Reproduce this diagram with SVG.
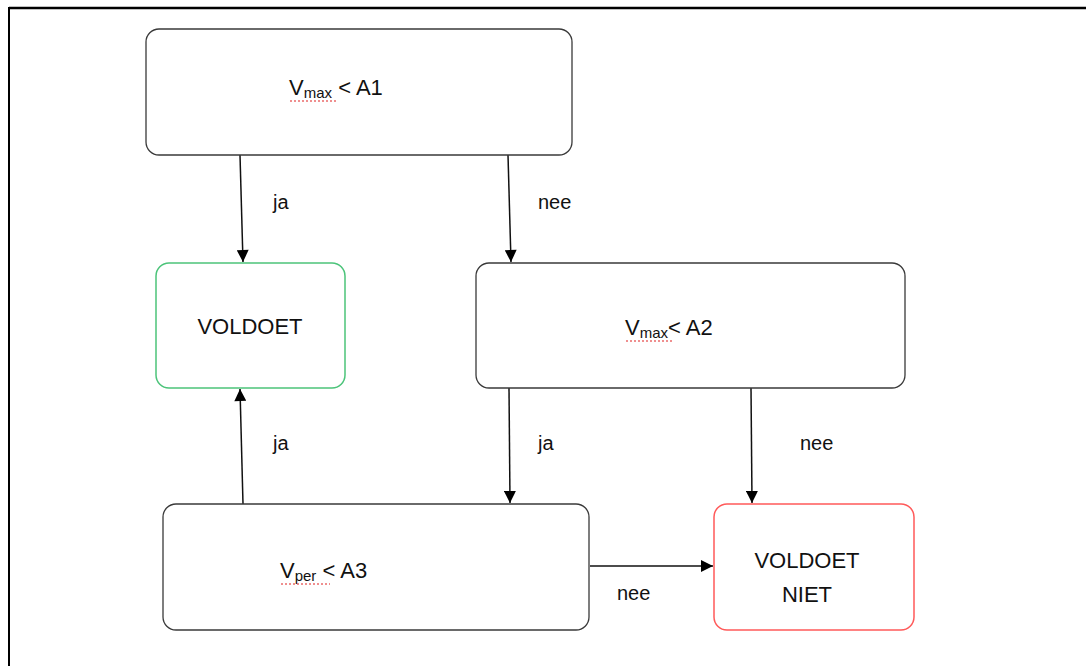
<svg xmlns="http://www.w3.org/2000/svg" width="1086" height="666" viewBox="0 0 1086 666">
<style>
.box{fill:#fff;stroke:#3a3a3a;stroke-width:1.3}
.ok{fill:#fff;stroke:#4cc47a;stroke-width:1.5}
.nok{fill:#fff;stroke:#ff5a5a;stroke-width:1.5}
text{font-family:"Liberation Sans",Arial,sans-serif;font-size:22px;fill:#111}
.sub{font-size:15px}
.lbl{font-size:20px}
.cn{stroke:#111;stroke-width:1.5;fill:none;marker-end:url(#ah)}
.sq{stroke:#e02020;stroke-width:1.2;stroke-dasharray:2 2;fill:none}
</style>
<defs>
<marker id="ah" viewBox="0 0 10 10" refX="10" refY="5" markerWidth="13" markerHeight="12" markerUnits="userSpaceOnUse" orient="auto">
<path d="M0,0 L10,5 L0,10 z" fill="#000"/>
</marker>
</defs>
<rect width="1086" height="666" fill="#fff"/>
<line x1="9" y1="8" x2="1086" y2="8" stroke="#000" stroke-width="2.5"/>
<line x1="9" y1="7" x2="9" y2="666" stroke="#000" stroke-width="2"/>
<g id="connectors">
<path class="cn" d="M240,155 L243,262"/>
<path class="cn" d="M508,155 L511,262"/>
<path class="cn" d="M243,504 L240,389"/>
<path class="cn" d="M509,388 L510,503"/>
<path class="cn" d="M751,388 L752,503"/>
<path class="cn" d="M590,566 L713,566"/>
<text class="lbl" x="273" y="209">ja</text>
<text class="lbl" x="538" y="209">nee</text>
<text class="lbl" x="273" y="450">ja</text>
<text class="lbl" x="538" y="450">ja</text>
<text class="lbl" x="800" y="450">nee</text>
<text class="lbl" x="617" y="600">nee</text>
</g>
<g id="n1">
<rect class="box" x="146" y="29" width="426" height="126" rx="13"/>
<text x="289" y="95">V<tspan class="sub" dy="3">max</tspan><tspan dy="-3"> &lt; A1</tspan></text>
<path class="sq" d="M290,101 H337"/>
</g>
<g id="voldoet">
<rect class="ok" x="156" y="263" width="189" height="125" rx="13"/>
<text x="250" y="334" text-anchor="middle">VOLDOET</text>
</g>
<g id="n2">
<rect class="box" x="476" y="263" width="429" height="125" rx="13"/>
<text x="625" y="335">V<tspan class="sub" dy="3">max</tspan><tspan dy="-3">&lt; A2</tspan></text>
<path class="sq" d="M626,341 H672"/>
</g>
<g id="n3">
<rect class="box" x="163" y="504" width="426" height="126" rx="13"/>
<text x="280" y="578">V<tspan class="sub" dy="3">per</tspan><tspan dy="-3"> &lt; A3</tspan></text>
<path class="sq" d="M281,584 H330"/>
</g>
<g id="voldoetniet">
<rect class="nok" x="714" y="504" width="200" height="126" rx="13"/>
<text x="807" y="568" text-anchor="middle">VOLDOET</text>
<text x="807" y="602" text-anchor="middle">NIET</text>
</g>
</svg>
